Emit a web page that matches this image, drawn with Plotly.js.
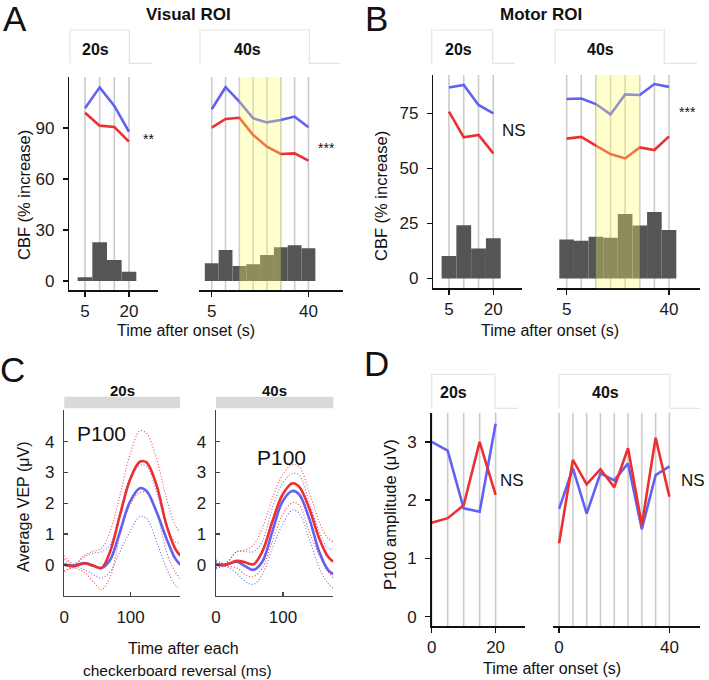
<!DOCTYPE html>
<html>
<head>
<meta charset="utf-8">
<script src="https://cdn.plot.ly/plotly-3.0.1.min.js"></script>
<style>html,body{margin:0;padding:0;background:#fff;}#chart{width:709px;height:680px;}</style>
</head>
<body>
<div id="chart"></div>
<script>
// ---------------- DATA ----------------
// Panel A: Visual ROI, CBF (% increase)
const xA20 = [5, 10, 15, 20];
const barsA20 = [2.2, 22.8, 12.4, 5.5];
const blueA20 = [101.6, 113.9, 103, 87.8];
const redA20 = [99, 91.4, 90.6, 82];
const xA40 = [5, 10, 15, 20, 25, 30, 35, 40];
const barsA40 = [10.4, 18.2, 8.8, 9.8, 15.3, 19.8, 21, 19.2];
const blueA40 = [101, 114, 105.5, 95.7, 93.3, 94.7, 96.7, 90.4];
const redA40 = [90.2, 95.3, 96, 85.9, 79, 74.7, 75.1, 70.8];
// Panel B: Motor ROI
const xB20 = [5, 10, 15, 20];
const barsB20 = [10.2, 24.1, 13.6, 18.2];
const blueB20 = [86.7, 87.9, 78.8, 75];
const redB20 = [75.8, 64.1, 65.2, 56.8];
const xB40 = [5, 10, 15, 20, 25, 30, 35, 40];
const barsB40 = [17.7, 17.1, 18.9, 18.5, 29.2, 24, 30.2, 22];
const blueB40 = [81.5, 81.7, 79.2, 74.5, 83.6, 83.3, 88.3, 87];
const redB40 = [63.5, 64.3, 60.3, 56.5, 54.5, 59.5, 58.3, 64.5];
// shaded window (s)
const shadeWindow = [15, 30];
// Panel C: average VEP (µV) vs time after reversal (ms)
const tC = [0, 14, 31, 44, 56, 69, 84, 99, 114, 124, 139, 154, 167, 175];
const redMean20 = [0.02, -0.05, 0.05, -0.03, -0.1, 0.43, 1.62, 2.76, 3.35, 3.33, 2.6, 1.3, 0.54, 0.3];
const blueMean20 = [0.0, -0.02, 0.06, -0.03, -0.1, 0.16, 1.08, 2.05, 2.49, 2.4, 1.73, 0.86, 0.22, 0.0];
const redUp20 = [0.3, 0.03, 0.32, 0.45, 0.54, 1.08, 2.27, 3.57, 4.35, 4.27, 3.46, 2.16, 1.3, 1.06];
const redLo20 = [-0.2, -0.1, -0.25, -0.55, -0.8, -0.4, 0.95, 1.95, 2.35, 2.35, 1.74, 0.44, -0.22, -0.44];
const blueUp20 = [0.2, 0.0, 0.27, 0.38, 0.43, 0.65, 1.73, 2.8, 3.24, 3.2, 2.38, 1.3, 0.76, 0.7];
const blueLo20 = [-0.22, -0.05, -0.16, -0.32, -0.43, -0.22, 0.43, 1.08, 1.57, 1.51, 0.76, -0.1, -0.65, -0.76];
const redMean40 = [0.02, 0.0, 0.13, 0.08, 0.02, 0.43, 1.4, 2.27, 2.65, 2.54, 1.84, 0.86, 0.27, 0.1];
const blueMean40 = [0.0, 0.0, 0.1, -0.05, -0.16, 0.1, 1.08, 2.05, 2.4, 2.29, 1.51, 0.43, -0.16, -0.3];
const redUp40 = [0.1, 0.05, 0.43, 0.49, 0.65, 1.19, 2.16, 2.92, 3.26, 3.19, 2.38, 1.4, 0.86, 0.76];
const redLo40 = [-0.09, -0.05, -0.1, -0.32, -0.38, -0.1, 0.76, 1.62, 2.02, 1.95, 1.08, 0.32, -0.22, -0.43];
const blueUp40 = [0.16, 0.05, 0.43, 0.43, 0.43, 0.76, 1.84, 2.65, 2.97, 2.92, 2.05, 1.08, 0.54, 0.52];
const blueLo40 = [-0.13, -0.05, -0.27, -0.54, -0.63, -0.32, 0.54, 1.3, 1.78, 1.68, 0.86, -0.1, -0.6, -0.76];
// Panel D: P100 amplitude (µV)
const xD20 = [0, 5, 10, 15, 20];
const blueD20 = [3.0, 2.85, 1.86, 1.8, 3.31];
const redD20 = [1.61, 1.69, 1.91, 3.0, 2.09];
const xD40 = [0, 5, 10, 15, 20, 25, 30, 35, 40];
const blueD40 = [1.85, 2.55, 1.77, 2.46, 2.34, 2.63, 1.5, 2.43, 2.58];
const redD40 = [1.26, 2.69, 2.27, 2.53, 2.22, 2.89, 1.57, 3.07, 2.06];

// ---------------- STYLE / LAYOUT HELPERS ----------------
const W = 709, H = 680;
const FN = "'Liberation Sans Narrow', 'Arial Narrow', 'Liberation Sans', Arial, sans-serif";
const FL = "'Liberation Sans', Arial, sans-serif";
const BLUE = '#6262f2', RED = '#ec3030', BAR = '#555555', GRID = '#cbcbcb';
const hx = (a, b) => [a / W, b / W];
const vy = (top, bot) => [1 - bot / H, 1 - top / H];
const PX = x => x / W, PY = y => 1 - y / H;

const tickFont = {family: FN, size: 17, color: '#1a1a1a'};
function xax(domain, range, tickvals, anchor, opts) {
  return Object.assign({domain, range, anchor, tickvals, ticktext: tickvals.map(String),
    showgrid: false, zeroline: false, showline: true, linecolor: '#111', linewidth: 1.5,
    ticks: 'outside', ticklen: 5, tickwidth: 1.5, tickcolor: '#111', tickfont: tickFont,
    ticklabelstandoff: 0, fixedrange: true}, opts || {});
}
function yax(domain, range, tickvals, anchor, opts) {
  return Object.assign({domain, range, anchor, tickvals: tickvals || [], ticktext: (tickvals || []).map(String),
    showgrid: false, zeroline: false, showline: !!tickvals, linecolor: '#111', linewidth: 1.5,
    ticks: tickvals ? 'outside' : '', ticklen: 5, tickwidth: 1.5, tickcolor: '#111', tickfont: tickFont,
    showticklabels: !!tickvals, ticklabelstandoff: 5, fixedrange: true}, opts || {});
}

const traces = [];
function bars(xs, ys, ax) {
  traces.push({type: 'bar', x: xs, y: ys, width: 5, xaxis: 'x' + ax, yaxis: 'y' + ax,
    marker: {color: BAR, line: {width: 0}}, hoverinfo: 'skip', showlegend: false});
}
function line(xs, ys, ax, color, width, dash, shape) {
  traces.push({type: 'scatter', mode: 'lines', x: xs, y: ys, xaxis: 'x' + ax, yaxis: 'y' + ax,
    line: {color, width, dash: dash || 'solid', shape: shape || 'linear', smoothing: 1},
    hoverinfo: 'skip', showlegend: false});
}

// A
bars(xA20, barsA20, 1); line(xA20, blueA20, 1, BLUE, 2.6); line(xA20, redA20, 1, RED, 2.6);
bars(xA40, barsA40, 2); line(xA40, blueA40, 2, BLUE, 2.6); line(xA40, redA40, 2, RED, 2.6);
// B
bars(xB20, barsB20, 3); line(xB20, blueB20, 3, BLUE, 2.6); line(xB20, redB20, 3, RED, 2.6);
bars(xB40, barsB40, 4); line(xB40, blueB40, 4, BLUE, 2.6); line(xB40, redB40, 4, RED, 2.6);
// C
const DOT = '1px,2px';
[[5, redUp20, redLo20, blueUp20, blueLo20, blueMean20, redMean20],
 [6, redUp40, redLo40, blueUp40, blueLo40, blueMean40, redMean40]].forEach(s => {
  const ax = s[0];
  line(tC, s[3], ax, '#6a6af5', 1.1, DOT, 'spline');
  line(tC, s[4], ax, '#6a6af5', 1.1, DOT, 'spline');
  line(tC, s[1], ax, '#f04848', 1.1, DOT, 'spline');
  line(tC, s[2], ax, '#f04848', 1.1, DOT, 'spline');
  line(tC, s[5], ax, BLUE, 2.6, 'solid', 'spline');
  line(tC, s[6], ax, RED, 2.6, 'solid', 'spline');
});
// D
line(xD20, blueD20, 7, BLUE, 2.6); line(xD20, redD20, 7, RED, 2.6);
line(xD40, blueD40, 8, BLUE, 2.6); line(xD40, redD40, 8, RED, 2.6);

// ---------------- AXES ----------------
const cAx = {linecolor: '#444', tickcolor: '#444', ticks: 'inside', ticklen: 4, linewidth: 1.5, ticklabelstandoff: 5};
const layout = {
  width: W, height: H, margin: {l: 0, r: 0, t: 0, b: 0},
  paper_bgcolor: '#fff', plot_bgcolor: 'rgba(0,0,0,0)', showlegend: false, barmode: 'overlay',
  xaxis:  xax(hx(69.3, 157.7), [-0.35, 29.8], [5, 20], 'y'),
  yaxis:  yax(vy(77, 290), [-5.3, 120], [0, 30, 60, 90], 'x'),
  xaxis2: xax(hx(199.3, 342.7), [0.5, 52.4], [5, 40], 'y2'),
  yaxis2: yax(vy(77, 290), [-5.3, 120], null, 'x2'),
  xaxis3: xax(hx(433.3, 521.7), [-0.3, 29.6], [5, 20], 'y3'),
  yaxis3: yax(vy(75, 288.3), [-4.5, 92.4], [0, 25, 50, 75], 'x3'),
  xaxis4: xax(hx(556.7, 700), [1.6, 50.6], [5, 40], 'y4'),
  yaxis4: yax(vy(75, 288.3), [-4.5, 92.4], null, 'x4'),
  xaxis5: xax(hx(64.3, 180), [0, 174.5], [0, 100], 'y5', cAx),
  yaxis5: yax(vy(410, 595.7), [-1, 5.03], [0, 1, 2, 3, 4], 'x5', cAx),
  xaxis6: xax(hx(216, 333.3), [0, 175], [0, 100], 'y6', cAx),
  yaxis6: yax(vy(410, 595.7), [-1, 5.03], [0, 1, 2, 3, 4], 'x6', cAx),
  xaxis7: xax(hx(431.7, 525), [0, 29.2], [0, 20], 'y7'),
  yaxis7: yax(vy(412.7, 626), [-0.16, 3.5], [0, 1, 2, 3], 'x7'),
  xaxis8: xax(hx(553.3, 700), [-2.1, 51.1], [0, 40], 'y8'),
  yaxis8: yax(vy(412.7, 626), [-0.16, 3.5], null, 'x8'),
  shapes: [], annotations: []
};

// gridlines at each measured time point
function grid(xs, ax) {
  xs.forEach(x => layout.shapes.push({type: 'line', xref: 'x' + ax, yref: 'y' + ax + ' domain',
    x0: x, x1: x, y0: 0, y1: 1, line: {color: GRID, width: 1.6}, layer: 'below'}));
}
grid(xA20, ''); grid(xA40, 2); grid(xB20, 3); grid(xB40, 4); grid(xD20, 7); grid(xD40, 8);

// yellow stimulation window overlay
[2, 4].forEach(ax => layout.shapes.push({type: 'rect', xref: 'x' + ax, yref: 'y' + ax + ' domain',
  x0: shadeWindow[0], x1: shadeWindow[1], y0: 0, y1: 1, fillcolor: '#ffff66', opacity: 0.33,
  line: {width: 0}, layer: 'above'}));

// strip boxes (white with faint border) for A, B, D
function strip(x0, x1, y0, y1, xl) {
  const c = '#e4e4e4';
  layout.shapes.push({type: 'path', xref: 'paper', yref: 'paper',
    path: `M ${PX(x0)} ${PY(y1)} L ${PX(x0)} ${PY(y0)} L ${PX(x1)} ${PY(y0)} L ${PX(x1)} ${PY(y1)} L ${PX(xl)} ${PY(y1)}`,
    line: {color: c, width: 1.2}});
}
strip(70, 129.3, 30, 63.3, 151.7);
strip(200, 309.3, 30, 63.3, 340);
strip(431.7, 492.7, 30, 63.3, 515);
strip(555, 664.3, 30, 63.3, 697);
strip(431.7, 495, 374.3, 408.3, 518);
strip(559, 670, 374.3, 408.3, 700);
// gray strips for C
[[64.3, 180], [216, 333.3]].forEach(r => layout.shapes.push({type: 'rect', xref: 'paper', yref: 'paper',
  x0: PX(r[0]), x1: PX(r[1]), y0: PY(408.3), y1: PY(396.7), fillcolor: '#d9d9d9', line: {width: 0}}));

// ---------------- TEXT ----------------
function txt(text, x, y, size, opts) {
  layout.annotations.push(Object.assign({text, x: PX(x), y: PY(y), xref: 'paper', yref: 'paper',
    xanchor: 'center', yanchor: 'middle', showarrow: false,
    font: {family: FN, size, color: '#111'}}, opts || {}));
}
const bold = (s) => '<b>' + s + '</b>';
const big = {font: {family: FL, size: 35, color: '#111'}};
// panel letters
txt('A', 15, 18, 35, big);
txt('B', 377, 18, 35, big);
txt('C', 12, 370, 35, big);
txt('D', 377, 363, 35, big);
// titles
txt(bold('Visual ROI'), 188.5, 14, 17);
txt(bold('Motor ROI'), 541, 14, 17);
// strip labels
txt(bold('20s'), 95.5, 50, 16); txt(bold('40s'), 247, 50, 16);
txt(bold('20s'), 458.5, 50, 16); txt(bold('40s'), 600.5, 50, 16);
txt(bold('20s'), 122, 391, 15); txt(bold('40s'), 274.7, 391, 15);
txt(bold('20s'), 453.3, 393, 16); txt(bold('40s'), 605, 393, 16);
// significance
txt('**', 148.7, 139, 14); txt('***', 326, 148, 14);
txt('NS', 514, 130, 17); txt('***', 687, 112, 14);
txt('NS', 512, 480, 17); txt('NS', 693, 480, 17);
txt('P100', 101.7, 433, 21); txt('P100', 281, 457.5, 21);
// axis titles
txt('CBF (% increase)', 24, 195, 16.5, {textangle: -90});
txt('CBF (% increase)', 381, 196, 16.5, {textangle: -90});
txt('Average VEP (μV)', 23, 507, 16, {textangle: -90});
txt('P100 amplitude (μV)', 390, 515, 16.5, {textangle: -90});
txt('Time after onset (s)', 186, 330, 16);
txt('Time after onset (s)', 550, 330, 16);
txt('Time after each', 183, 648, 16);
txt('checkerboard reversal (ms)', 177, 670, 15.5);
txt('Time after onset (s)', 552, 668, 16);

Plotly.newPlot('chart', traces, layout, {staticPlot: true, displayModeBar: false});
</script>
</body>
</html>
